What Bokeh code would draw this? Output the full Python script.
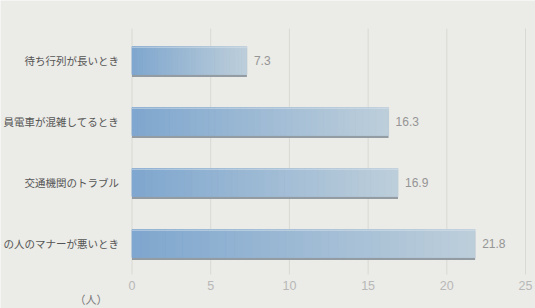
import numpy as np
from bokeh.plotting import figure
from bokeh.models import Range1d
from bokeh.core.properties import value
from bokeh.embed import file_html
from bokeh.resources import INLINE

# ---- data ----
categories = ["待ち行列が長いとき", "員電車が混雑してるとき", "交通機関のトラブル", "の人のマナーが悪いとき"]
values = [7.3, 16.3, 16.9, 21.8]
value_labels = ["7.3", "16.3", "16.9", "21.8"]
x_ticks = [0, 5, 10, 15, 20, 25]
x_tick_labels = ["0", "5", "10", "15", "20", "25"]
unit_label = "（人）"

# ---- layout constants ----
W, H = 535, 308
PX_PER_UNIT = 15.74
X0_PX = 131.5
ROW_PX = 61.0
Y0_PX = 60.0
BG = "#ebebe7"
FONT = "Noto Sans CJK JP"

x_start = -X0_PX / PX_PER_UNIT
x_end = (W - X0_PX) / PX_PER_UNIT
y_top = -Y0_PX / ROW_PX
y_bottom = (H - Y0_PX) / ROW_PX

p = figure(width=W, height=H, x_range=Range1d(x_start, x_end),
           y_range=Range1d(y_bottom, y_top), x_axis_type=None, y_axis_type=None,
           toolbar_location=None, output_backend="svg", min_border=0,
           background_fill_color=BG, border_fill_color=BG, outline_line_color=None)

ys = list(range(len(categories)))

# grid lines
grid_top = (28 - Y0_PX) / ROW_PX
grid_bot = (274 - Y0_PX) / ROW_PX
p.segment(x0=x_ticks, x1=x_ticks, y0=[grid_top] * len(x_ticks), y1=[grid_bot] * len(x_ticks),
          line_color="#d9d9d4", line_width=1)

# bars: shadow + gradient slices
bar_h = 28 / ROW_PX
shadow_off = 2.5 / ROW_PX
p.hbar(y=[y + shadow_off for y in ys], left=0, right=values, height=bar_h,
       fill_color="#939ca3", line_color=None)

N = 40
c0 = np.array([0x80, 0xa7, 0xcf])
c1 = np.array([0xbd, 0xce, 0xdb])
sl_y, sl_l, sl_r, sl_c = [], [], [], []
for y, v in zip(ys, values):
    for k in range(N):
        t = k / (N - 1)
        c = (c0 * (1 - t) + c1 * t).astype(int)
        sl_y.append(y)
        sl_l.append(v * k / N)
        sl_r.append(v * (k + 1) / N)
        sl_c.append("#%02x%02x%02x" % tuple(c))
p.hbar(y=sl_y, left=sl_l, right=sl_r, height=bar_h, fill_color=sl_c,
       line_color=sl_c, line_width=0.8)

# top highlight
hl_y = [y - bar_h / 2 + 0.8 / ROW_PX for y in ys]
p.segment(x0=[0] * len(values), x1=values, y0=hl_y, y1=hl_y,
          line_color="#dbe5ed", line_width=1, line_alpha=0.6)

# category labels
p.text(x=[0] * len(categories), y=ys, text=categories, x_offset=-13,
       text_align="right", text_baseline="middle", text_font=value(FONT),
       text_font_size="10.5px", text_color="#555555")

# value labels
p.text(x=values, y=ys, text=value_labels, x_offset=7, text_align="left",
       text_baseline="middle", text_font=value("Liberation Sans"),
       text_font_size="12px", text_color="#959595")

# tick labels
tick_y = (285 - Y0_PX) / ROW_PX
p.text(x=x_ticks, y=[tick_y] * len(x_ticks), text=x_tick_labels, text_align="center",
       text_baseline="middle", text_font=value("Liberation Sans"),
       text_font_size="12.5px", text_color="#b8b8b8")

# unit label
p.text(x=[0], y=[(298.5 - Y0_PX) / ROW_PX], text=[unit_label], x_offset=-41,
       text_align="center", text_baseline="middle", text_font=value(FONT),
       text_font_size="11px", text_color="#777777")

open("out.html", "w").write(file_html(p, INLINE))
